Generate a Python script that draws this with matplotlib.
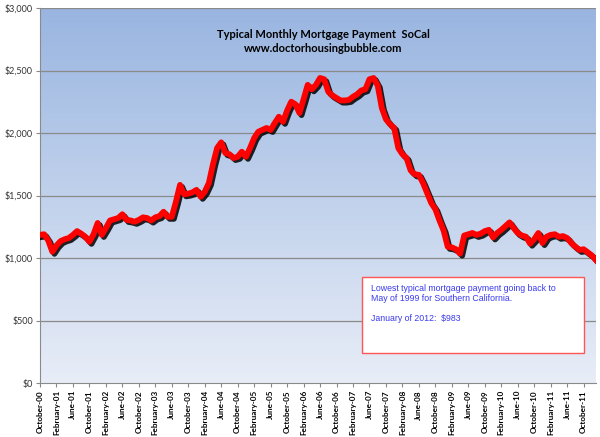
import numpy as np
import matplotlib
matplotlib.use("Agg")
import matplotlib.pyplot as plt
import matplotlib.patheffects as pe
from matplotlib.patches import Rectangle

# monthly typical payment, October 2000 .. January 2012
payment = [
    1185, 1190, 1140, 1050, 1100, 1135, 1150, 1160, 1185, 1215, 1195, 1170,
    1130, 1190, 1280, 1185, 1240, 1300, 1310, 1320, 1350, 1305, 1300, 1290,
    1305, 1325, 1320, 1300, 1325, 1335, 1370, 1330, 1330, 1450, 1585, 1510,
    1515, 1525, 1545, 1490, 1530, 1600, 1750, 1880, 1925, 1840, 1830, 1800,
    1810, 1850, 1810, 1880, 1960, 2010, 2025, 2040, 2025, 2080, 2130, 2090,
    2180, 2250, 2230, 2160, 2270, 2385, 2350, 2385, 2440, 2430, 2330, 2300,
    2280, 2260, 2260, 2265, 2290, 2310, 2340, 2350, 2430, 2440, 2380, 2200,
    2110, 2070, 2040, 1880, 1830, 1800, 1700, 1670, 1665, 1600, 1520, 1440,
    1390, 1300, 1220, 1090, 1085, 1070, 1035, 1180, 1190, 1200, 1185, 1195,
    1215, 1225, 1165, 1200, 1225, 1255, 1285, 1240, 1200, 1180, 1170, 1115,
    1150, 1200, 1120, 1170, 1185, 1190, 1170, 1175, 1160, 1120, 1090, 1065,
    1070, 1045, 1020, 983,
]

tick_labels = [
    "October-00", "February-01", "June-01", "October-01", "February-02", "June-02",
    "October-02", "February-03", "June-03", "October-03", "February-04", "June-04",
    "October-04", "February-05", "June-05", "October-05", "February-06", "June-06",
    "October-06", "February-07", "June-07", "October-07", "February-08", "June-08",
    "October-08", "February-09", "June-09", "October-09", "February-10", "June-10",
    "October-10", "February-11", "June-11", "October-11",
]
y_ticks = [0, 500, 1000, 1500, 2000, 2500, 3000]

title_lines = ["Typical Monthly Mortgage Payment  SoCal", "www.doctorhousingbubble.com"]
note_text = ("Lowest typical mortgage payment going back to\n"
             "May of 1999 for Southern California.\n\n"
             "January of 2012:  $983")

fig = plt.figure(figsize=(6, 4.37), dpi=100)
ax = fig.add_axes([40/600, 1 - 383/437, 556/600, 375/437])

x = np.arange(len(payment))

# gradient background, darker blue at the top
grad = np.linspace(0, 1, 256).reshape(-1, 1)
top = np.array([0.60, 0.71, 0.88])
bot = np.array([0.91, 0.93, 0.97])
img = top + (bot - top) * grad[..., None]
ax.imshow(img, extent=[0, len(payment) - 1, 0, 3000], origin="upper",
          aspect="auto", zorder=0)
ax.set_xlim(0, len(payment) - 1)
ax.set_ylim(0, 3000)

for v in y_ticks[1:]:
    ax.axhline(v, color="#8a8a8a", lw=0.9, zorder=1)

ax.plot(x, payment, color="#ff0000", lw=4.2, solid_joinstyle="round", zorder=3,
        path_effects=[pe.SimpleLineShadow(offset=(1.5, -1.5), shadow_color="black", alpha=0.85),
                      pe.Normal()])

for s in ["top", "right"]:
    ax.spines[s].set_visible(False)
ax.spines["left"].set_color("#8a8a8a")
ax.spines["bottom"].set_color("#8a8a8a")

ax.set_yticks(y_ticks)
ax.set_yticklabels(["$" + format(v, ",") for v in y_ticks], fontsize=6.5,
                   family="Lato", color="#333333")
ax.set_xticks(np.arange(0, len(payment), 4))
ax.set_xticklabels(tick_labels, rotation=90, fontsize=5.9, family="Lato",
                   fontweight="bold")
ax.tick_params(axis="both", length=3, color="#8a8a8a", pad=2)

ax.text(0.509, 0.928, title_lines[0], transform=ax.transAxes, ha="center",
        va="center", fontsize=8, fontweight="bold", family="Lato")
ax.text(0.509, 0.893, title_lines[1], transform=ax.transAxes, ha="center",
        va="center", fontsize=8, fontweight="bold", family="Lato")

bx0, by0 = (362 - 40) / 556, (383 - 353) / 375
bw, bh = (584 - 362) / 556, (353 - 277) / 375
ax.add_patch(Rectangle((bx0, by0), bw, bh, transform=ax.transAxes,
                       facecolor="white", edgecolor="#ff5555", lw=1, zorder=4))
ax.text((371 - 40) / 556, (383 - 284) / 375, note_text, transform=ax.transAxes,
        ha="left", va="top", fontsize=6.3, family="Liberation Sans",
        color="#3a3af0", linespacing=1.15, zorder=5)

fig.savefig("out.png", dpi=100)
